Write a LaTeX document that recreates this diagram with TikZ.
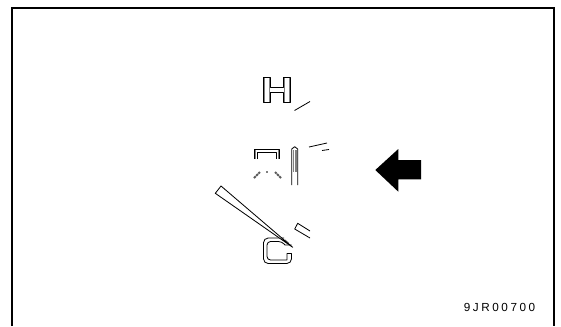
\documentclass[tikz,border=0pt]{standalone}
\usepackage{fontspec}
\usepackage{xcolor}
\newfontfamily\codefont[LetterSpace=22]{Liberation Sans}
\definecolor{ink}{HTML}{000000}
\definecolor{inkgray}{HTML}{808080}
\tikzset{
  frameline/.style={draw=ink,line width=1.8pt,line cap=butt},
  thinline/.style={draw=ink,line width=0.7pt,line join=round},
  shadeline/.style={draw=inkgray,line width=0.9pt},
  markline/.style={draw=inkgray!70!ink,line width=1.6pt,dash pattern=on 2pt off 0.7pt},
  codelabel/.style={font=\codefont,text=ink,inner sep=0pt,anchor=east}
}
\begin{document}
\begin{tikzpicture}[x=0.03cm,y=-0.03cm]
      \useasboundingbox (0,0) rectangle (561,326);
      % frame, open at the bottom
      \draw[frameline] (12,326)--(12,8)--(554,8)--(554,326);
      % H
      \draw[shadeline] (264.5,78)--(264.5,102) (269.5,78)--(269.5,102) (284.5,78)--(284.5,102) (289.5,78)--(289.5,102);
      \draw[thinline] (263.5,77.5)--(270.5,77.5)--(270.5,87.5)--(283.5,87.5)--(283.5,77.5)--(290.5,77.5)--(290.5,102.5)--(283.5,102.5)--(283.5,92.5)--(270.5,92.5)--(270.5,102.5)--(263.5,102.5)--cycle;
      % ticks
      \draw[thinline] (294.5,110.5)--(310,101.5);
      \draw[thinline] (309,147)--(327,143);
      \draw[thinline] (322,150.5)--(329,149.5);
      \draw[thinline] (294.7,229)--(297.7,223.3)--(310,231);
      \draw[thinline] (294.7,229)--(310,238);
      % bracket
      \draw[shadeline] (255,150)--(255,159) (278.5,150)--(278.5,159);
      \draw[thinline] (254.5,159)--(254.5,149)--(279.5,149)--(279.5,159);
      \draw[thinline] (257.5,159)--(257.5,152)--(276.5,152)--(276.5,159);
      % small marks
      \draw[markline] (254,178)--(260,172);
      \draw[markline] (281,178)--(275,172);
      \draw[shadeline] (266,172)--(268,172);
      % upright pointer
      \draw[shadeline] (293.5,150)--(293.5,172) (296,150)--(296,172);
      \draw[thinline] (291.7,185)--(291.7,149)--(294.7,146.7)--(297.7,149)--(297.7,185);
      % C
      \draw[thinline] (284,238)[rounded corners=4pt]--(263.5,238)--(263.5,263.5)--(291.5,263.5)[sharp corners]--(291.5,253.5)--(287,253.5)--(287,260)[rounded corners=3pt]--(267,260)--(267,241.5)--(282,241.5)[sharp corners]--(285,245)--(291.5,245);
      \draw[shadeline] (285,240)--(289,243.5);
      % slanted pointer
      \draw[thinline,fill=white] (221,186)--(215.3,193.3)--(292.7,247.3)--cycle;
      % arrow
      \fill[ink] (375.3,170)--(398.3,149)--(398.3,160)--(421,160)--(421,179.3)--(398.3,179.3)--(398.3,191.7)--cycle;
      \node[codelabel] (code) at (535.5,307.7) {9JR00700};
\end{tikzpicture}
\end{document}
